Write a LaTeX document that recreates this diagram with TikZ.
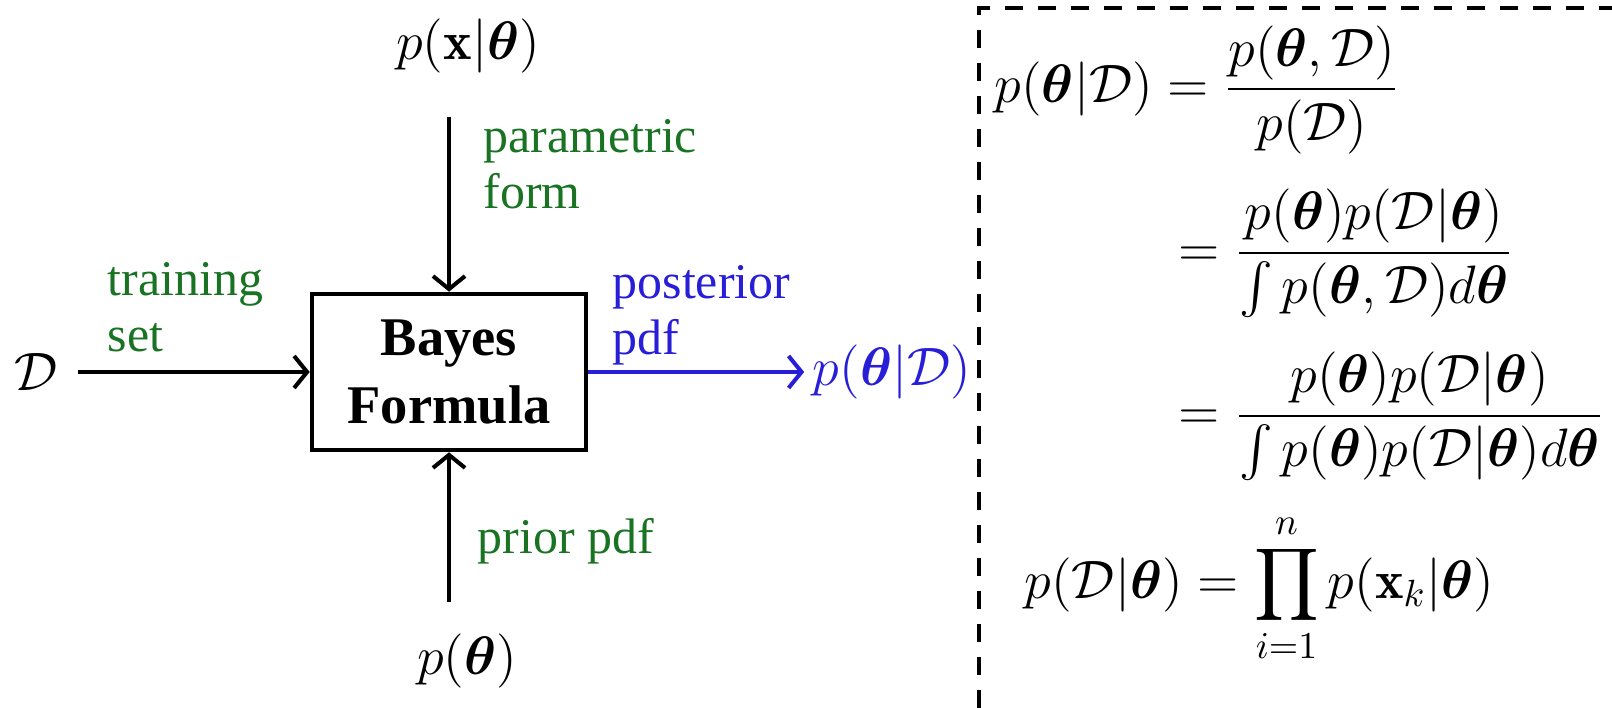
\RequirePackage{fix-cm}
\documentclass[tikz,border=0pt]{standalone}
\usepackage{amsmath,bm}
\usepackage{fontspec}
\newfontfamily\timesfont{Liberation Serif}
\definecolor{lblgreen}{RGB}{25,115,35}
\definecolor{lblblue}{RGB}{40,30,215}
\usetikzlibrary{arrows.meta, positioning}

\begin{document}
\begin{tikzpicture}[
        block/.style={rectangle, draw, line width=1.3pt, minimum width=2.74cm, minimum height=1.56cm, align=center, font=\timesfont\bfseries\fontsize{15.5}{19.3}\selectfont},
        expr/.style={inner sep=0pt, font=\fontsize{15.4}{18}\selectfont},
        note/.style={inner sep=0pt, align=left, text=lblgreen, font=\timesfont\fontsize{14.2}{16}\selectfont},
        flow/.style={-{Straight Barb[length=1.3mm, width=3.2mm]}, line width=1.15pt},
        dashframe/.style={line width=1.15pt, dash pattern=on 0.18cm off 0.15cm}
    ]
        \useasboundingbox (0,0) rectangle (16.12,7.08);

        % Block and its inputs / output
        \node[block] (bayes) at (4.49,3.36) {Bayes\\Formula};
        \node[expr] (dset) at (0.36,3.36) {$\mathcal{D}$};
        \node[expr] (pxt) at (4.68,6.62) {$p(\mathbf{x}|\bm{\theta})$};
        \node[expr] (ptheta) at (4.67,0.47) {$p(\bm{\theta})$};
        \node[expr, text=lblblue] (pout) at (8.92,3.36) {$p(\bm{\theta}|\mathcal{D})$};

        % Arrows
        \draw[flow, shorten <=0.2cm] (dset) -- (bayes.west);
        \draw[flow, shorten <=0.43cm] (pxt.south -| bayes.north) -- (bayes.north);
        \draw[flow, shorten <=0.31cm] (ptheta.north -| bayes.south) -- (bayes.south);
        \draw[flow, lblblue, shorten >=0.08cm] (bayes.east) -- (pout.west);

        % Labels (base = last line)
        \node[note, anchor=base west] (ltrain) at (1.07,3.56) {training\\set};
        \node[note, anchor=base west] (lparam) at (4.83,4.99) {parametric\\form};
        \node[note, anchor=base west, text=lblblue] (lpost) at (6.12,3.53) {posterior\\pdf};
        \node[note, anchor=base west] (lprior) at (4.77,1.54) {prior pdf};

        % Right panel
        \draw[dashframe] (9.79,0) |- (16.12,7.00);
        \node[expr, anchor=base west] (eqa) at (9.94,6.05) {$\displaystyle p(\bm{\theta}|\mathcal{D}) = \frac{p(\bm{\theta},\mathcal{D})}{p(\mathcal{D})}$};
        \node[expr, anchor=base west] (eqb) at (11.78,4.415) {$\displaystyle = \frac{p(\bm{\theta})p(\mathcal{D}|\bm{\theta})}{\int p(\bm{\theta},\mathcal{D})d\bm{\theta}}$};
        \node[expr, anchor=base west] (eqc) at (11.78,2.785) {$\displaystyle = \frac{p(\bm{\theta})p(\mathcal{D}|\bm{\theta})}{\int p(\bm{\theta})p(\mathcal{D}|\bm{\theta})d\bm{\theta}}$};
        \node[expr, anchor=base west] (eqd) at (10.24,1.095) {$\displaystyle p(\mathcal{D}|\bm{\theta}) = \prod_{i=1}^{n} p(\mathbf{x}_k|\bm{\theta})$};
    \end{tikzpicture}
\end{document}
